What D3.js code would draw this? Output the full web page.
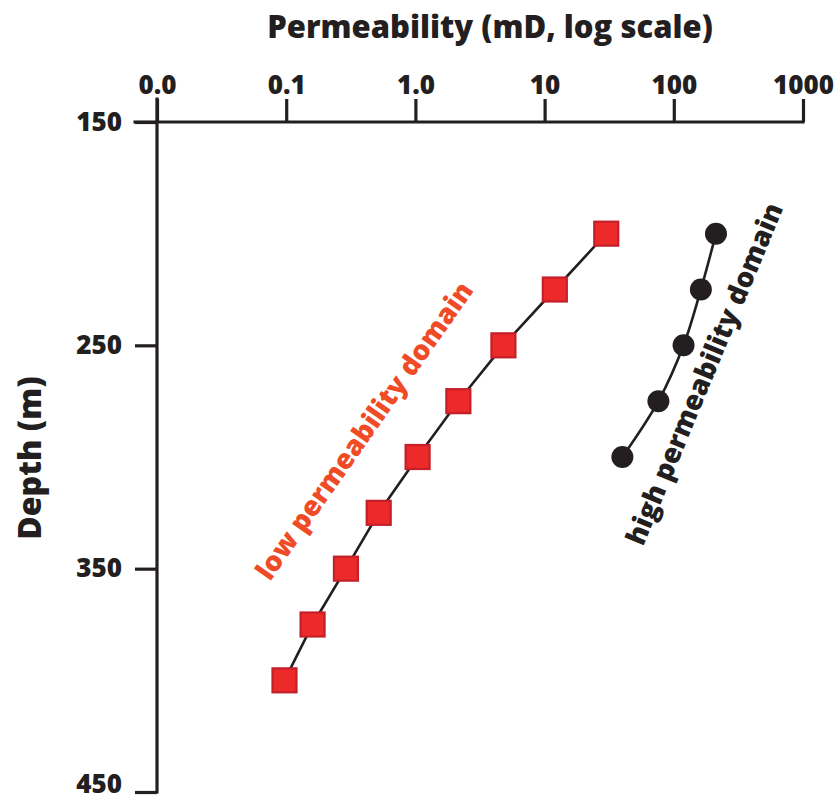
<!DOCTYPE html>
<html><head><meta charset="utf-8">
<script src="https://cdn.jsdelivr.net/npm/d3@7"></script>
<style>
html,body{margin:0;padding:0;background:#fff;}
svg text{font-family:"Open Sans","Noto Sans",sans-serif;font-weight:800;}
</style></head>
<body>
<svg id="chart" width="834" height="803"></svg>
<script>
// Data
const xTickValues = [0.01, 0.1, 1, 10, 100, 1000];
const xTickLabels = ["0.0", "0.1", "1.0", "10", "100", "1000"];
const yTickValues = [150, 250, 350, 450];
const lowDepths = [200, 225, 250, 275, 300, 325, 350, 375, 400];
const lowPerm = [30, 12, 4.8, 2.15, 1.04, 0.52, 0.29, 0.16, 0.097];
const highDepths = [200, 225, 250, 275, 300];
const highPerm = [212, 162, 119, 76, 40];

const ink = "#231f20";
const svg = d3.select("#chart");
const mLeft = 157, mRight = 803, mTop = 122, mBottom = 792;

const x = d3.scaleLog().domain([0.01, 1000]).range([mLeft, mRight]);
const y = d3.scaleLinear().domain([150, 450]).range([mTop, mBottom]);

// X axis (top)
const xAxis = d3.axisTop(x).tickValues(xTickValues)
  .tickFormat((d, i) => xTickLabels[i]).tickSize(23).tickSizeOuter(0).tickPadding(5);
const gx = svg.append("g").attr("transform", `translate(0,${mTop})`).call(xAxis);
gx.select(".domain").attr("stroke", ink).attr("stroke-width", 3.2)
  .attr("d", `M${mLeft - 22},0H${mRight}`);
gx.selectAll(".tick line").attr("stroke", ink).attr("stroke-width", 3.2);
gx.selectAll(".tick text").attr("fill", ink).attr("font-size", 26);

// Y axis (left)
const yAxis = d3.axisLeft(y).tickValues(yTickValues).tickSize(22).tickSizeOuter(0).tickPadding(13);
const gy = svg.append("g").attr("transform", `translate(${mLeft},0)`).call(yAxis);
gy.select(".domain").attr("stroke", ink).attr("stroke-width", 3.2)
  .attr("d", `M0,${mTop - 23}V${mBottom}`);
gy.selectAll(".tick line").attr("stroke", ink).attr("stroke-width", 3.2);
gy.selectAll(".tick text").attr("fill", ink).attr("font-size", 26)
  .attr("dy", d => d === 450 ? "0.02em" : "0.32em");
svg.selectAll(".domain").attr("stroke-linecap", "square");

// Titles
svg.append("text").attr("x", 490).attr("y", 38)
  .attr("text-anchor", "middle").attr("font-size", 31).attr("fill", ink)
  .text("Permeability (mD, log scale)");
svg.append("text").attr("transform", `translate(41,458) rotate(-90)`)
  .attr("text-anchor", "middle").attr("font-size", 32).attr("fill", ink)
  .text("Depth (m)");

// Low permeability series
const lowData = lowDepths.map((d, i) => ({depth: d, perm: lowPerm[i]}));
const line = d3.line().x(d => x(d.perm)).y(d => y(d.depth));
svg.append("path").datum(lowData).attr("d", line)
  .attr("fill", "none").attr("stroke", ink).attr("stroke-width", 2.6);
const sq = 24;
svg.selectAll("rect.low").data(lowData).enter().append("rect")
  .attr("class", "low")
  .attr("x", d => x(d.perm) - sq / 2).attr("y", d => y(d.depth) - sq / 2)
  .attr("width", sq).attr("height", sq)
  .attr("fill", "#ed2a2a").attr("stroke", "#c4202a").attr("stroke-width", 2.2);

// High permeability series
const highData = highDepths.map((d, i) => ({depth: d, perm: highPerm[i]}));
const curve = d3.line().x(d => x(d.perm)).y(d => y(d.depth)).curve(d3.curveCatmullRom);
svg.append("path").datum(highData).attr("d", curve)
  .attr("fill", "none").attr("stroke", ink).attr("stroke-width", 2.6);
svg.selectAll("circle.high").data(highData).enter().append("circle")
  .attr("class", "high")
  .attr("cx", d => x(d.perm)).attr("cy", d => y(d.depth)).attr("r", 11)
  .attr("fill", ink);

// Annotations
svg.append("text").attr("transform", "translate(270,582) rotate(-55)")
  .attr("font-size", 27.5).attr("fill", "#ef4b26")
  .text("low permeability domain");
svg.append("text").attr("transform", "translate(643,547) rotate(-67.5)")
  .attr("font-size", 27.5).attr("fill", ink)
  .text("high permeability domain");
</script>
</body></html>
